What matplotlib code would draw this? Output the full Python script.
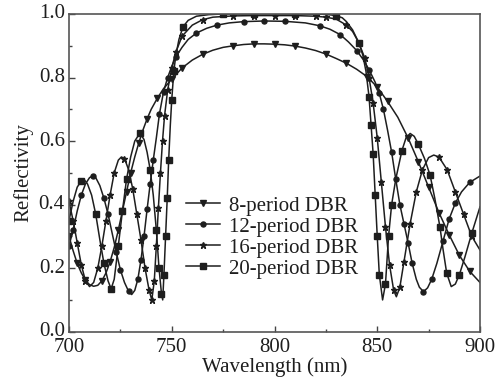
import matplotlib
matplotlib.use("Agg")
import matplotlib.pyplot as plt
import matplotlib.transforms as mtransforms
from matplotlib.ticker import MultipleLocator, FormatStrFormatter

plt.rcParams['font.family'] = ['Liberation Serif', 'DejaVu Serif']

# ---- data ----
wl8 = [700, 702, 704, 706, 708, 710, 712, 714, 716, 718, 720, 722, 724, 726, 728, 730, 732, 734, 736, 738,
       740, 743, 746, 750, 755, 760, 765, 770, 775, 780, 785, 790, 795, 800, 805, 810, 815, 820, 825, 830,
       835, 840, 845, 850, 855, 860, 865, 870, 875, 880, 885, 890, 895, 900]
r8 = [0.30, 0.255, 0.215, 0.185, 0.162, 0.148, 0.143, 0.146, 0.16, 0.185, 0.22, 0.265, 0.32, 0.38, 0.44,
      0.50, 0.55, 0.595, 0.635, 0.67, 0.70, 0.735, 0.765, 0.795, 0.83, 0.855, 0.873, 0.886, 0.895, 0.90,
      0.904, 0.906, 0.906, 0.905, 0.903, 0.899, 0.893, 0.885, 0.874, 0.86, 0.845, 0.826, 0.803, 0.77,
      0.725, 0.675, 0.61, 0.535, 0.455, 0.375, 0.305, 0.24, 0.19, 0.155]

wl12 = [700, 702, 704, 706, 708, 710, 711.5, 713, 715, 717, 719, 721, 723, 725, 727, 729, 730.5, 732, 733.5,
        735, 736.5, 738, 739.5, 741, 742.5, 744, 746, 748, 750, 752, 755, 758, 762, 767, 772, 778, 785, 795,
        805, 815, 822, 827, 832, 836, 840, 843, 846, 849, 851, 853, 855, 857, 859, 861, 863, 865, 867, 869,
        870.5, 872.5, 874.5, 876.5, 879, 882, 885, 888, 891, 895, 900]
r12 = [0.27, 0.32, 0.38, 0.43, 0.465, 0.485, 0.49, 0.485, 0.46, 0.42, 0.37, 0.31, 0.25, 0.195, 0.155, 0.127,
       0.117, 0.13, 0.165, 0.225, 0.30, 0.385, 0.465, 0.54, 0.61, 0.685, 0.755, 0.80, 0.835, 0.865, 0.895,
       0.92, 0.94, 0.955, 0.965, 0.972, 0.976, 0.978, 0.977, 0.972, 0.963, 0.952, 0.935, 0.912, 0.885,
       0.858, 0.825, 0.785, 0.75, 0.70, 0.635, 0.565, 0.48, 0.40, 0.34, 0.28, 0.215, 0.165, 0.14, 0.126,
       0.138, 0.165, 0.215, 0.285, 0.355, 0.405, 0.44, 0.47, 0.49]

wl16 = [700, 702, 704, 706, 708, 710, 712, 714, 716, 718, 720, 722, 724, 725.5, 727, 729, 731, 733, 735, 737,
        739, 740.3, 741.5, 742.5, 743.5, 744.5, 745.5, 746.5, 748, 750, 752, 755, 760, 765, 770, 780, 790,
        800, 810, 820, 825, 830, 835, 838, 841, 844, 846, 848, 850, 852, 854, 856, 858, 859.3, 861, 863,
        866, 869, 872, 875, 877.5, 880, 884, 888, 892, 896, 900]
r16 = [0.41, 0.35, 0.28, 0.21, 0.16, 0.142, 0.155, 0.20, 0.27, 0.35, 0.43, 0.50, 0.54, 0.55, 0.545, 0.51,
       0.45, 0.37, 0.29, 0.20, 0.13, 0.10, 0.16, 0.27, 0.39, 0.50, 0.60, 0.68, 0.76, 0.83, 0.88, 0.93,
       0.965, 0.982, 0.99, 0.994, 0.995, 0.995, 0.995, 0.993, 0.99, 0.984, 0.965, 0.945, 0.91, 0.86, 0.80,
       0.72, 0.61, 0.47, 0.33, 0.21, 0.13, 0.11, 0.14, 0.22, 0.34, 0.44, 0.51, 0.548, 0.556, 0.55, 0.51,
       0.44, 0.37, 0.30, 0.257]

wl20 = [700, 702, 704, 706, 707.5, 709, 711, 713, 715, 717, 719, 720.5, 722, 724, 726, 728, 730, 732, 734.5,
        736.5, 738, 739.5, 741, 742.5, 743.8, 745, 745.6, 746.2, 747, 747.8, 748.5, 749.3, 750, 751, 752,
        753.5, 755.5, 758, 762, 768, 775, 790, 810, 825, 830, 833, 835, 838, 841, 843, 844.5, 846, 847, 848,
        849, 850, 851, 852.6, 854, 855.5, 857, 859, 862, 864, 866, 868, 870, 873, 875.7, 878, 880.5, 882,
        883.8, 886, 888, 890, 892.7, 896, 900]
r20 = [0.35, 0.41, 0.455, 0.475, 0.478, 0.465, 0.43, 0.37, 0.29, 0.215, 0.16, 0.135, 0.165, 0.27, 0.38,
       0.48, 0.55, 0.60, 0.625, 0.605, 0.565, 0.51, 0.43, 0.32, 0.20, 0.12, 0.10, 0.18, 0.30, 0.42, 0.54,
       0.65, 0.73, 0.82, 0.87, 0.92, 0.96, 0.98, 0.993, 0.998, 1.0, 1.0, 1.0, 0.999, 0.995, 0.988, 0.976,
       0.95, 0.91, 0.87, 0.82, 0.74, 0.65, 0.56, 0.43, 0.30, 0.18, 0.10, 0.15, 0.30, 0.40, 0.48, 0.57,
       0.61, 0.624, 0.615, 0.59, 0.545, 0.493, 0.42, 0.33, 0.26, 0.184, 0.142, 0.15, 0.18, 0.236, 0.31,
       0.393]

labels = ["8-period DBR", "12-period DBR", "16-period DBR", "20-period DBR"]
xticks = [700, 750, 800, 850, 900]
yticks = [0.0, 0.2, 0.4, 0.6, 0.8, 1.0]

# ---- figure ----
fig = plt.figure(figsize=(5.01, 3.90), dpi=100)
ax = fig.add_axes([69/501, 1-331.7/390, (480-69)/501, (331.7-14)/390])

ink = '#1e1e1e'
series = [(wl8, r8, 'v', 4.3, 0.045),
          (wl12, r12, 'o', 3.6, 0.048),
          (wl16, r16, '*', 4.5, 0.040),
          (wl20, r20, 's', 3.7, 0.077)]
for (x, y, m, ms, me), lab in zip(series, labels):
    ax.plot(x, y, color=ink, lw=1.1, marker=m, ms=ms, markevery=me,
            markerfacecolor=ink, markeredgecolor=ink, label=lab)

ax.set_xlim(700, 900)
ax.set_ylim(0, 1.0)
ax.set_xticks(xticks)
ax.set_yticks(yticks)
ax.yaxis.set_major_formatter(FormatStrFormatter('%.1f'))
ax.xaxis.set_minor_locator(MultipleLocator(25))
ax.yaxis.set_minor_locator(MultipleLocator(0.1))
ax.tick_params(which='both', direction='in', top=False, right=False, colors='#444444',
               labelcolor=ink, labelsize=15, width=1.0)
ax.tick_params(which='major', length=4)
ax.tick_params(axis='x', which='major', pad=4.5)
ax.tick_params(axis='y', which='major', pad=3)
ax.tick_params(which='minor', length=2.5)
for s in ax.spines.values():
    s.set_color('#555555')
    s.set_linewidth(1.2)

# nudge y tick labels up slightly (as in the reference)
shift = mtransforms.ScaledTranslation(0, 2.5/100, fig.dpi_scale_trans)
for lab in ax.get_yticklabels():
    lab.set_transform(lab.get_transform() + shift)

ax.set_xlabel('Wavelength (nm)', fontsize=15, color=ink, labelpad=0)
ax.set_ylabel('Reflectivity', fontsize=15, color=ink, labelpad=4)

leg = ax.legend(loc='upper left', bbox_to_anchor=(0.275, 0.44), frameon=False, fontsize=15,
                handlelength=1.6, handletextpad=0.45, labelspacing=0.07, borderpad=0.2,
                borderaxespad=0.0)
for t in leg.get_texts():
    t.set_color(ink)

fig.savefig('out.png', dpi=100)
